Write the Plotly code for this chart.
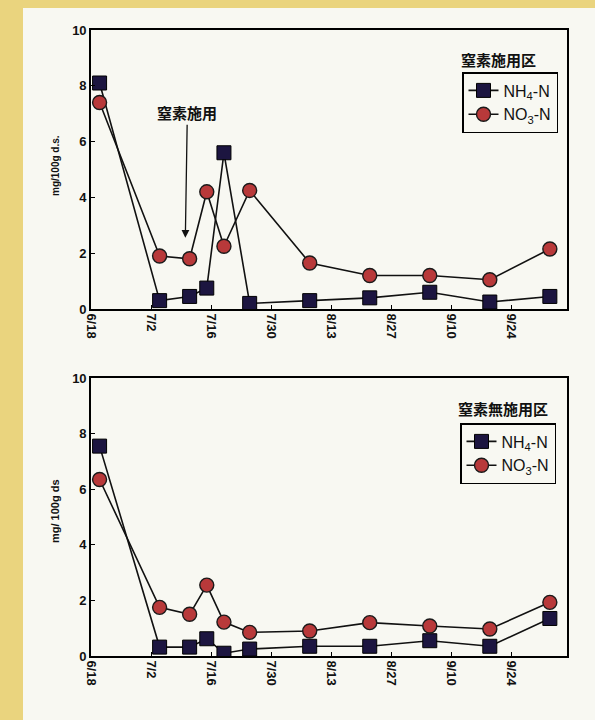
import plotly.graph_objects as go
from plotly.subplots import make_subplots

# ---- data ----
dates = ["2001-06-20", "2001-07-04", "2001-07-11", "2001-07-15", "2001-07-19",
         "2001-07-25", "2001-08-08", "2001-08-22", "2001-09-05", "2001-09-19", "2001-10-03"]

top_nh4 = [8.1, 0.3, 0.45, 0.75, 5.6, 0.2, 0.3, 0.4, 0.6, 0.25, 0.45]
top_no3 = [7.4, 1.9, 1.8, 4.2, 2.25, 4.25, 1.65, 1.2, 1.2, 1.05, 2.15]

bot_nh4 = [7.55, 0.32, 0.32, 0.62, 0.1, 0.25, 0.35, 0.35, 0.55, 0.35, 1.35]
bot_no3 = [6.35, 1.75, 1.5, 2.55, 1.22, 0.85, 0.9, 1.2, 1.08, 0.97, 1.93]

tick_dates = ["2001-06-18", "2001-07-02", "2001-07-16", "2001-07-30",
              "2001-08-13", "2001-08-27", "2001-09-10", "2001-09-24"]
tick_text = ["6/18", "7/2", "7/16", "7/30", "8/13", "8/27", "9/10", "9/24"]

series_names = ["NH<sub>4</sub>-N", "NO<sub>3</sub>-N"]
panel_titles = ["窒素施用区", "窒素無施用区"]
y_label_top = "mg/100g d.s."
y_label_bot = "mg/ 100g ds"
arrow_text = "窒素施用"
arrow_date = "2001-07-10"
arrow_y = 2.55

# ---- style ----
W, H = 595, 720
ml, mr, mt, mb = 91, 28, 30, 64
pw, ph = W - ml - mr, H - mt - mb
SQ = "#1c1540"
CI = "#b8393a"
LINE = "#111111"
BG = "#f8f8f2"
YEL = "#ead47e"
FONT = "Liberation Sans"
CJK = "Noto Sans CJK JP"

def fx(px):
    return (px - ml) / pw

def fy(py):
    return (H - mb - py) / ph

fig = make_subplots(rows=2, cols=1, vertical_spacing=0.11)

for row, (nh4, no3) in enumerate([(top_nh4, top_no3), (bot_nh4, bot_no3)], start=1):
    leg = "legend" if row == 1 else "legend2"
    fig.add_trace(go.Scatter(
        x=dates, y=nh4, mode="lines+markers", name=series_names[0],
        line=dict(color=LINE, width=1.6),
        marker=dict(symbol="square", size=14, color=SQ, line=dict(color="#000000", width=1)),
        legend=leg), row=row, col=1)
    fig.add_trace(go.Scatter(
        x=dates, y=no3, mode="lines+markers", name=series_names[1],
        line=dict(color=LINE, width=1.6),
        marker=dict(symbol="circle", size=14, color=CI, line=dict(color="#1a1a1a", width=1.4)),
        legend=leg), row=row, col=1)

xa = dict(type="date", range=["2001-06-18", "2001-10-07"], tickvals=tick_dates,
          ticktext=tick_text, tickangle=90, ticks="inside", ticklen=4,
          tickcolor="#000", showline=True, linecolor="#000", linewidth=1.6,
          mirror=True, showgrid=False, zeroline=False,
          tickfont=dict(family=FONT, size=13, color="#111", weight="bold"))
ya = dict(range=[0, 10], tickvals=[0, 2, 4, 6, 8, 10], ticks="inside", ticklen=4,
          tickcolor="#000", showline=True, linecolor="#000", linewidth=1.6,
          mirror=True, showgrid=False, zeroline=False,
          tickfont=dict(family=FONT, size=13, color="#111", weight="bold"))

fig.update_xaxes(**xa)
fig.update_yaxes(**ya)
fig.update_layout(
    xaxis=dict(domain=[0, 1]), xaxis2=dict(domain=[0, 1]),
    yaxis=dict(domain=[fy(309), 1.0]),
    yaxis2=dict(domain=[0.0, fy(378)]),
)

legend_common = dict(bgcolor="rgba(0,0,0,0)", bordercolor="#000", borderwidth=1.5,
                     font=dict(family=FONT, size=16, color="#111"),
                     xanchor="left", yanchor="top", itemwidth=30, tracegroupgap=0)

fig.update_layout(
    width=W, height=H,
    margin=dict(l=ml, r=mr, t=mt, b=mb),
    paper_bgcolor=BG, plot_bgcolor=BG,
    font=dict(family=FONT),
    showlegend=True,
    legend=dict(x=fx(462), y=fy(72), **legend_common),
    legend2=dict(x=fx(460), y=fy(423), **legend_common),
)

annotations = [
    dict(x=fx(498), y=fy(60), xref="paper", yref="paper", text=f"<b>{panel_titles[0]}</b>",
         xanchor="center", yanchor="middle",
         showarrow=False, font=dict(family=CJK, size=15, color="#111")),
    dict(x=fx(503), y=fy(408), xref="paper", yref="paper", text=f"<b>{panel_titles[1]}</b>",
         xanchor="center", yanchor="middle",
         showarrow=False, font=dict(family=CJK, size=15, color="#111")),
    dict(x=fx(55), y=fy(166), xref="paper", yref="paper", text=f"<b>{y_label_top}</b>",
         xanchor="center", yanchor="middle",
         textangle=-90, showarrow=False, font=dict(family=FONT, size=10, color="#111")),
    dict(x=fx(55), y=fy(511), xref="paper", yref="paper", text=f"<b>{y_label_bot}</b>",
         xanchor="center", yanchor="middle",
         textangle=-90, showarrow=False, font=dict(family=FONT, size=11, color="#111")),
    dict(x=arrow_date, y=arrow_y, xref="x", yref="y", text=f"<b>{arrow_text}</b>",
         showarrow=True, ax=2, ay=-125, arrowhead=2, arrowsize=1.2, arrowwidth=1.3,
         arrowcolor="#111", font=dict(family=CJK, size=15, color="#111")),
]
fig.update_layout(annotations=annotations)

# page background bands (scan border)
fig.update_layout(shapes=[
    dict(type="rect", xref="paper", yref="paper", x0=fx(0), x1=fx(23), y0=fy(H), y1=fy(0),
         fillcolor=YEL, line=dict(width=0), layer="below"),
    dict(type="rect", xref="paper", yref="paper", x0=fx(0), x1=fx(W), y0=fy(8), y1=fy(0),
         fillcolor=YEL, line=dict(width=0), layer="below"),
])

fig.write_html(
    "out.html",
    config={"displayModeBar": False},
    post_script="document.body.style.margin='0';document.body.style.overflow='hidden';",
)
